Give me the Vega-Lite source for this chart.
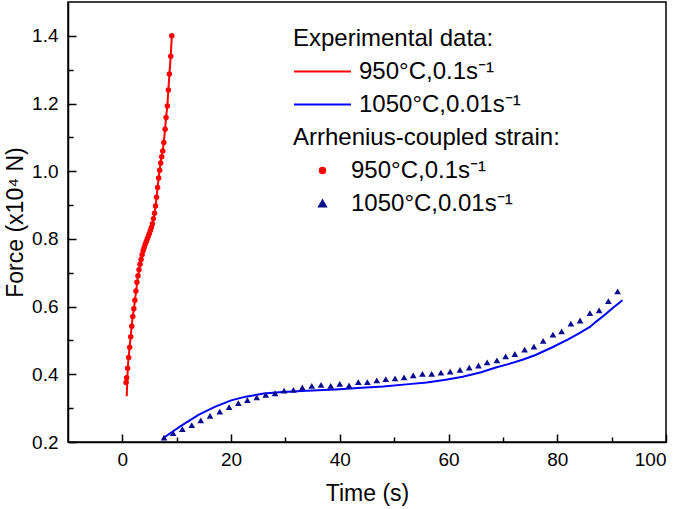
{
  "$schema": "https://vega.github.io/schema/vega-lite/v6.json",
  "width": 598,
  "height": 440,
  "autosize": {"type": "none"},
  "padding": {"left": 68, "top": 2, "right": 19, "bottom": 67},
  "background": "#ffffff",
  "config": {
    "font": "Liberation Sans",
    "view": {"stroke": "#000000", "strokeWidth": 1.5},
    "axis": {
      "domainColor": "#000000",
      "domainWidth": 1.5,
      "tickColor": "#000000",
      "tickWidth": 1.5,
      "grid": false,
      "labelFont": "Liberation Sans",
      "labelFontSize": 19,
      "labelColor": "#000000",
      "titleFont": "Liberation Sans",
      "titleFontSize": 23,
      "titleFontWeight": "normal",
      "titleColor": "#000000"
    }
  },
  "data": {
    "values": [
      {"s": "e950", "t": 0.8, "F": 0.335},
      {"s": "e950", "t": 0.95, "F": 0.4},
      {"s": "e950", "t": 1.1, "F": 0.443},
      {"s": "e950", "t": 1.47, "F": 0.502},
      {"s": "e950", "t": 1.84, "F": 0.561},
      {"s": "e950", "t": 2.34, "F": 0.621},
      {"s": "e950", "t": 2.76, "F": 0.677},
      {"s": "e950", "t": 3.2, "F": 0.719},
      {"s": "e950", "t": 3.6, "F": 0.75},
      {"s": "e950", "t": 4.0, "F": 0.774},
      {"s": "e950", "t": 4.5, "F": 0.797},
      {"s": "e950", "t": 5.0, "F": 0.817},
      {"s": "e950", "t": 5.5, "F": 0.842},
      {"s": "e950", "t": 5.96, "F": 0.881},
      {"s": "e950", "t": 6.25, "F": 0.917},
      {"s": "e950", "t": 6.51, "F": 0.956},
      {"s": "e950", "t": 6.75, "F": 0.99},
      {"s": "e950", "t": 7.06, "F": 1.03},
      {"s": "e950", "t": 7.43, "F": 1.06},
      {"s": "e950", "t": 7.62, "F": 1.085},
      {"s": "e950", "t": 7.86, "F": 1.124},
      {"s": "e950", "t": 8.04, "F": 1.16},
      {"s": "e950", "t": 8.28, "F": 1.193},
      {"s": "e950", "t": 8.46, "F": 1.24},
      {"s": "e950", "t": 8.65, "F": 1.287},
      {"s": "e950", "t": 8.9, "F": 1.34},
      {"s": "e950", "t": 9.09, "F": 1.4},

      {"s": "m950", "t": 0.68, "F": 0.376},
      {"s": "m950", "t": 0.78, "F": 0.39},
      {"s": "m950", "t": 0.97, "F": 0.418},
      {"s": "m950", "t": 1.16, "F": 0.45},
      {"s": "m950", "t": 1.35, "F": 0.48},
      {"s": "m950", "t": 1.54, "F": 0.511},
      {"s": "m950", "t": 1.73, "F": 0.542},
      {"s": "m950", "t": 1.92, "F": 0.571},
      {"s": "m950", "t": 2.11, "F": 0.594},
      {"s": "m950", "t": 2.3, "F": 0.619},
      {"s": "m950", "t": 2.49, "F": 0.646},
      {"s": "m950", "t": 2.68, "F": 0.672},
      {"s": "m950", "t": 2.87, "F": 0.691},
      {"s": "m950", "t": 3.06, "F": 0.709},
      {"s": "m950", "t": 3.25, "F": 0.725},
      {"s": "m950", "t": 3.44, "F": 0.739},
      {"s": "m950", "t": 3.63, "F": 0.753},
      {"s": "m950", "t": 3.82, "F": 0.765},
      {"s": "m950", "t": 4.01, "F": 0.775},
      {"s": "m950", "t": 4.2, "F": 0.784},
      {"s": "m950", "t": 4.39, "F": 0.792},
      {"s": "m950", "t": 4.58, "F": 0.8},
      {"s": "m950", "t": 4.77, "F": 0.808},
      {"s": "m950", "t": 4.96, "F": 0.816},
      {"s": "m950", "t": 5.15, "F": 0.825},
      {"s": "m950", "t": 5.34, "F": 0.834},
      {"s": "m950", "t": 5.53, "F": 0.845},
      {"s": "m950", "t": 5.72, "F": 0.86},
      {"s": "m950", "t": 5.91, "F": 0.876},
      {"s": "m950", "t": 6.1, "F": 0.897},
      {"s": "m950", "t": 6.29, "F": 0.923},
      {"s": "m950", "t": 6.48, "F": 0.952},
      {"s": "m950", "t": 6.67, "F": 0.98},
      {"s": "m950", "t": 6.86, "F": 1.003},
      {"s": "m950", "t": 7.05, "F": 1.024},
      {"s": "m950", "t": 7.24, "F": 1.043},
      {"s": "m950", "t": 7.43, "F": 1.06},
      {"s": "m950", "t": 7.62, "F": 1.085},
      {"s": "m950", "t": 7.86, "F": 1.124},
      {"s": "m950", "t": 8.04, "F": 1.159},
      {"s": "m950", "t": 8.28, "F": 1.193},
      {"s": "m950", "t": 8.46, "F": 1.24},
      {"s": "m950", "t": 8.65, "F": 1.287},
      {"s": "m950", "t": 8.9, "F": 1.34},
      {"s": "m950", "t": 9.09, "F": 1.4},

      {"s": "e1050", "t": 7.5, "F": 0.211},
      {"s": "e1050", "t": 9, "F": 0.228},
      {"s": "e1050", "t": 11, "F": 0.25},
      {"s": "e1050", "t": 14, "F": 0.28},
      {"s": "e1050", "t": 17, "F": 0.304},
      {"s": "e1050", "t": 20, "F": 0.323},
      {"s": "e1050", "t": 22.7, "F": 0.334},
      {"s": "e1050", "t": 26, "F": 0.343},
      {"s": "e1050", "t": 29.4, "F": 0.348},
      {"s": "e1050", "t": 33, "F": 0.351},
      {"s": "e1050", "t": 36, "F": 0.353},
      {"s": "e1050", "t": 40, "F": 0.356},
      {"s": "e1050", "t": 44, "F": 0.36},
      {"s": "e1050", "t": 48, "F": 0.364},
      {"s": "e1050", "t": 52.7, "F": 0.371},
      {"s": "e1050", "t": 56, "F": 0.376},
      {"s": "e1050", "t": 59.5, "F": 0.384},
      {"s": "e1050", "t": 62.6, "F": 0.393},
      {"s": "e1050", "t": 66, "F": 0.406},
      {"s": "e1050", "t": 68.7, "F": 0.42},
      {"s": "e1050", "t": 71, "F": 0.43},
      {"s": "e1050", "t": 73.6, "F": 0.443},
      {"s": "e1050", "t": 76, "F": 0.457},
      {"s": "e1050", "t": 79.1, "F": 0.48},
      {"s": "e1050", "t": 82, "F": 0.503},
      {"s": "e1050", "t": 84, "F": 0.521},
      {"s": "e1050", "t": 86, "F": 0.54},
      {"s": "e1050", "t": 87.1, "F": 0.555},
      {"s": "e1050", "t": 88.7, "F": 0.575},
      {"s": "e1050", "t": 90.2, "F": 0.596},
      {"s": "e1050", "t": 92.0, "F": 0.619},

      {"s": "m1050", "t": 7.67, "F": 0.213},
      {"s": "m1050", "t": 9.33, "F": 0.226},
      {"s": "m1050", "t": 11.04, "F": 0.238},
      {"s": "m1050", "t": 12.76, "F": 0.25},
      {"s": "m1050", "t": 14.42, "F": 0.264},
      {"s": "m1050", "t": 16.13, "F": 0.277},
      {"s": "m1050", "t": 17.92, "F": 0.29},
      {"s": "m1050", "t": 19.63, "F": 0.303},
      {"s": "m1050", "t": 21.34, "F": 0.315},
      {"s": "m1050", "t": 23.0, "F": 0.324},
      {"s": "m1050", "t": 24.72, "F": 0.332},
      {"s": "m1050", "t": 26.38, "F": 0.339},
      {"s": "m1050", "t": 28.09, "F": 0.344},
      {"s": "m1050", "t": 29.75, "F": 0.352},
      {"s": "m1050", "t": 31.46, "F": 0.354},
      {"s": "m1050", "t": 33.1, "F": 0.361},
      {"s": "m1050", "t": 34.84, "F": 0.366},
      {"s": "m1050", "t": 36.55, "F": 0.369},
      {"s": "m1050", "t": 38.33, "F": 0.366},
      {"s": "m1050", "t": 39.99, "F": 0.372},
      {"s": "m1050", "t": 41.7, "F": 0.367},
      {"s": "m1050", "t": 43.4, "F": 0.377},
      {"s": "m1050", "t": 45.07, "F": 0.377},
      {"s": "m1050", "t": 46.8, "F": 0.382},
      {"s": "m1050", "t": 48.45, "F": 0.386},
      {"s": "m1050", "t": 50.16, "F": 0.388},
      {"s": "m1050", "t": 51.82, "F": 0.391},
      {"s": "m1050", "t": 53.5, "F": 0.397},
      {"s": "m1050", "t": 55.2, "F": 0.401},
      {"s": "m1050", "t": 56.9, "F": 0.401},
      {"s": "m1050", "t": 58.6, "F": 0.405},
      {"s": "m1050", "t": 60.3, "F": 0.408},
      {"s": "m1050", "t": 62.1, "F": 0.413},
      {"s": "m1050", "t": 63.8, "F": 0.42},
      {"s": "m1050", "t": 65.5, "F": 0.426},
      {"s": "m1050", "t": 67.1, "F": 0.435},
      {"s": "m1050", "t": 68.9, "F": 0.441},
      {"s": "m1050", "t": 70.5, "F": 0.453},
      {"s": "m1050", "t": 72.2, "F": 0.46},
      {"s": "m1050", "t": 74.0, "F": 0.473},
      {"s": "m1050", "t": 75.7, "F": 0.482},
      {"s": "m1050", "t": 77.4, "F": 0.499},
      {"s": "m1050", "t": 79.2, "F": 0.517},
      {"s": "m1050", "t": 80.8, "F": 0.527},
      {"s": "m1050", "t": 82.5, "F": 0.55},
      {"s": "m1050", "t": 84.2, "F": 0.559},
      {"s": "m1050", "t": 86.0, "F": 0.581},
      {"s": "m1050", "t": 87.7, "F": 0.589},
      {"s": "m1050", "t": 89.4, "F": 0.616},
      {"s": "m1050", "t": 91.1, "F": 0.645}
    ]
  },
  "encoding": {
    "x": {
      "field": "t",
      "type": "quantitative",
      "scale": {"domain": [-10, 100], "nice": false, "zero": false},
      "axis": {
        "title": "Time (s)",
        "values": [0, 10, 20, 30, 40, 50, 60, 70, 80, 90, 100],
        "labelExpr": "datum.value % 20 == 0 ? datum.label : ''",
        "tickSize": {"condition": {"test": "datum.value % 20 == 0", "value": -8}, "value": -5},
        "labelPadding": 16,
        "titlePadding": 13
      }
    },
    "y": {
      "field": "F",
      "type": "quantitative",
      "scale": {"domain": [0.2, 1.5], "nice": false, "zero": false},
      "axis": {
        "title": "Force (x10⁴ N)",
        "values": [0.2, 0.3, 0.4, 0.5, 0.6, 0.7, 0.8, 0.9, 1.0, 1.1, 1.2, 1.3, 1.4],
        "format": ".1f",
        "labelExpr": "round(datum.value * 10) % 2 == 0 ? datum.label : ''",
        "tickSize": {"condition": {"test": "round(datum.value * 10) % 2 == 0", "value": -8}, "value": -5},
        "labelPadding": 18,
        "titlePadding": 4
      }
    },
    "color": {
      "field": "s",
      "type": "nominal",
      "scale": {
        "domain": ["h1", "e950", "e1050", "h2", "m950", "m1050"],
        "range": ["#ffffff", "#ff0000", "#0000ff", "#ffffff", "#ff0000", "#0b0b8f"]
      },
      "legend": {
        "title": null,
        "orient": "none",
        "legendX": 225,
        "legendY": 20,
        "padding": 0,
        "symbolType": "stroke",
        "symbolSize": 3249,
        "symbolStrokeWidth": 2,
        "symbolOffset": 0,
        "clipHeight": 33,
        "rowPadding": 0,
        "labelOffset": 7,
        "labelFont": "Liberation Sans",
        "labelFontSize": 24,
        "labelColor": "#000000",
        "labelLimit": 500,
        "labelExpr": "datum.value == 'h1' ? 'Experimental data:' : datum.value == 'h2' ? 'Arrhenius-coupled strain:' : (datum.value == 'e950' || datum.value == 'm950') ? '950°C,0.1s⁻¹' : '1050°C,0.01s⁻¹'",
        "encode": {
          "symbols": {
            "update": {
              "shape": {"signal": "datum.value == 'm950' ? 'circle' : datum.value == 'm1050' ? 'triangle-up' : 'stroke'"},
              "size": {"signal": "datum.value == 'm950' ? 30 : datum.value == 'm1050' ? 45 : 3249"},
              "fill": {"signal": "datum.value == 'm950' ? '#ff0000' : datum.value == 'm1050' ? '#0b0b8f' : 'transparent'"},
              "stroke": {"signal": "datum.value == 'e950' ? '#ff0000' : datum.value == 'e1050' ? '#0000ff' : 'transparent'"},
              "strokeWidth": {"value": 2},
              "opacity": {"value": 1}
            }
          },
          "labels": {
            "update": {
              "dx": {"signal": "(datum.value == 'h1' || datum.value == 'h2') ? -66 : (datum.value == 'm950' || datum.value == 'm1050') ? -8 : 0"}
            }
          }
        }
      }
    }
  },
  "layer": [
    {
      "transform": [{"filter": "datum.s == 'e950' || datum.s == 'e1050'"}],
      "mark": {"type": "line", "strokeWidth": 2, "clip": true},
      "encoding": {"detail": {"field": "s"}}
    },
    {
      "transform": [{"filter": "datum.s == 'm950'"}],
      "mark": {"type": "point", "shape": "circle", "filled": true, "opacity": 1, "size": 30, "clip": true}
    },
    {
      "transform": [{"filter": "datum.s == 'm1050'"}],
      "mark": {"type": "point", "shape": "triangle-up", "filled": true, "opacity": 1, "size": 45, "clip": true}
    }
  ]
}
